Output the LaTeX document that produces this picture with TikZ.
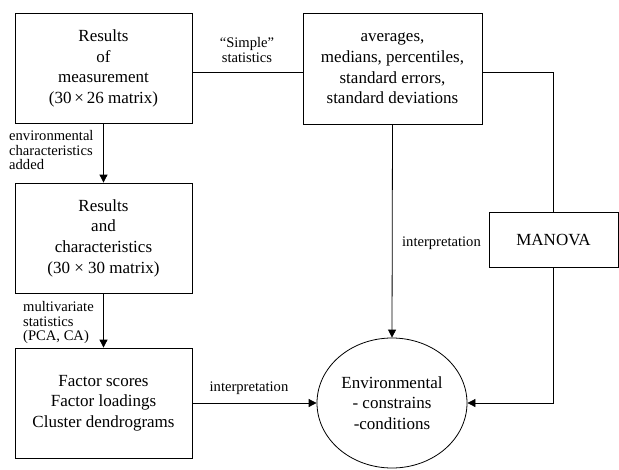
\documentclass[tikz,border=0pt]{standalone}
\usepackage{fontspec}
\setmainfont{Liberation Serif}
\usetikzlibrary{arrows.meta,shapes.geometric}
\begin{document}
\begin{tikzpicture}[x=1pt,y=-1pt,
  box/.style={draw,line width=0.8pt,minimum width=177pt,minimum height=110pt,align=center,
    font=\fontsize{17}{20.7}\selectfont,inner sep=0pt},
  lbl/.style={font=\fontsize{14.6}{14.7}\selectfont,inner sep=0pt},
  conn/.style={line width=0.8pt},
  arr/.style={conn,-{Triangle[length=8pt,width=8pt]}}]
\useasboundingbox (0,0) rectangle (619,469);
\node[box] (b1) at (103.5,68.5) {Results\\of\\measurement\\(30\,×\,26 matrix)};
\node[box] (b2) at (103.5,238) {Results\\and\\characteristics\\(30 × 30 matrix)};
\node[box] (b3) at (103.5,403) {Factor scores\\Factor loadings\\Cluster dendrograms};
\node[box,minimum width=179pt,minimum height=111pt] (b4) at (392.5,68.5) {averages,\\medians, percentiles,\\standard errors,\\standard deviations};
\node[box,minimum width=129pt,minimum height=55pt] (man) at (553.5,239.5) {MANOVA};
\node[draw,ellipse,line width=0.8pt,minimum width=150pt,minimum height=130pt,inner sep=0pt,align=center,
  font=\fontsize{17}{20.7}\selectfont] (ell) at (392,403) {Environmental\\- constrains\\-conditions};
\coordinate (h) at (0,72);
\draw[conn] (b1.east |- h) -- (b4.west |- h);
\draw[conn] (b4.east |- h) -| (man.north);
\draw[arr] (man.south) |- (ell.east);
\draw[arr] (b4.south) -- (ell.north);
\draw[arr] (b3.east |- ell.west) -- (ell.west);
\draw[arr] (b1.south) -- (b2.north);
\draw[arr] (b2.south) -- (b3.north);
\node[lbl,align=center] (l1) at (247,50) {“Simple”\\statistics};
\node[lbl,align=left,anchor=north west] (l2) at (9,130) {environmental\\characteristics\\added};
\node[lbl,align=left,anchor=north west] (l3) at (23,301) {multivariate\\statistics\\(PCA, CA)};
\node[lbl] (l4) at (441.5,243) {interpretation};
\node[lbl] (l5) at (249,388) {interpretation};
\end{tikzpicture}
\end{document}
